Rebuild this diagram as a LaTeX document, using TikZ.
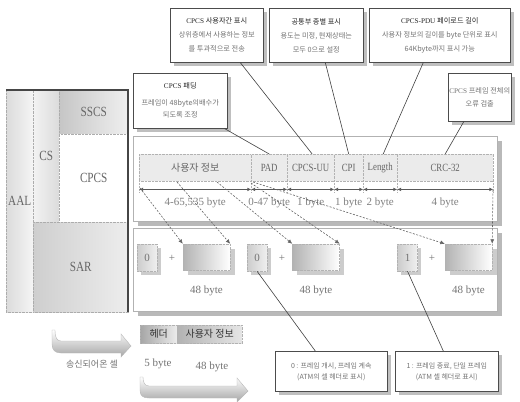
\documentclass[tikz,border=0pt]{standalone}
\usepackage{fontspec}
\usepackage{graphicx}
\setmainfont{Liberation Serif}
\newfontfamily\kr{Noto Sans CJK KR}
\usetikzlibrary{shadows,arrows.meta,calc}
\newcommand\cond[1]{\scalebox{0.8}[1]{#1}}
\newcommand\cbody{\color{black!55}}
\begin{document}
\begin{tikzpicture}[x=1pt,y=-1pt,
  col/.style={anchor=north west, draw=gray!65, densely dotted, inner sep=0pt, font=\fontsize{14}{14}\selectfont, text=black!60},
  panel/.style={anchor=north west, draw=gray!60, fill=white, line width=0.5pt, inner sep=0pt, drop shadow={shadow xshift=5pt, shadow yshift=-5pt, fill=gray!55, opacity=1}},
  callout/.style={anchor=north west, draw=black!70, fill=white, line width=0.6pt, align=center, inner sep=1pt, font=\fontsize{7.2}{14}\selectfont, text=black!85, drop shadow={shadow xshift=4pt, shadow yshift=-4pt, fill=gray!50, opacity=1}},
  field/.style={anchor=north west, draw=gray!60, densely dotted, fill=gray!16, minimum height=27pt, inner sep=0pt, font=\fontsize{11}{12}\selectfont, text=black!60},
  dimline/.style={black!65, line width=0.7pt, {Latex[length=4pt,width=3.5pt]}-{Latex[length=4pt,width=3.5pt]}},
  dimlbl/.style={font=\fontsize{11}{12}\selectfont, text=black!50, inner sep=0pt},
  divtick/.style={gray!60, densely dotted, line width=0.5pt},
  seg/.style={black!60, dash pattern=on 2pt off 1.5pt, line width=0.6pt, -{Latex[length=4.5pt,width=4pt]}},
  conn/.style={black!75, line width=0.6pt},
  scell/.style={draw=gray!60, densely dotted, left color=gray!40, right color=gray!12, minimum width=20pt, minimum height=27pt, inner sep=0pt, font=\fontsize{11}{12}\selectfont, text=black!55, drop shadow={shadow xshift=3.5pt, shadow yshift=-4pt, fill=gray!40, opacity=1}},
  bcell/.style={draw=gray!60, densely dotted, left color=gray!60, right color=white, minimum width=47pt, minimum height=26pt, inner sep=0pt, drop shadow={shadow xshift=4.5pt, shadow yshift=-5pt, fill=gray!40, opacity=1}},
  lbl/.style={font=\fontsize{11}{12}\selectfont, text=black!55, inner sep=0pt},
  atm/.style={anchor=north west, draw=gray!60, densely dotted, minimum height=18pt, inner sep=0pt, font=\fontsize{10}{12}\selectfont, text=black!80},
  ribbon/.style={draw=gray!55, line width=0.4pt, top color=white, bottom color=gray!70},
]
\useasboundingbox (0,0) rectangle (520,402);

% ---------- left AAL stack
\node[col, left color=gray!28, right color=gray!8, minimum width=27pt, minimum height=222pt] (aal) at (6,90) {\cond{AAL}};
\node[col, left color=gray!10, right color=gray!28, minimum width=26pt, minimum height=132pt] (cs) at (33,90) {\cond{CS}};
\node[col, left color=gray!45, right color=gray!12, minimum width=69pt, minimum height=44pt] (sscs) at (59,90) {\cond{SSCS}};
\node[col, fill=white, minimum width=69pt, minimum height=88pt] (cpcs) at (59,134) {\cond{CPCS}};
\node[col, left color=gray!38, right color=gray!14, minimum width=95pt, minimum height=90pt] (sar) at (33,222) {\cond{SAR}};
\draw[gray!55!black, line width=2pt] (aal.north west) -- (sscs.north east) -- (sar.south east);

% ---------- panels
\node[panel, minimum width=364pt, minimum height=85pt] (cpcsframe) at (133,136) {};
\node[panel, minimum width=364pt, minimum height=83pt] (sarframe) at (133,228) {};

% ---------- CPCS fields
\node[field, minimum width=112pt] (f1) at (139,154) {\kr\fontsize{10}{12}\selectfont 사용자 정보};
\node[field, minimum width=36pt] (f2) at (251,154) {\cond{PAD}};
\node[field, minimum width=47pt] (f3) at (287,154) {\cond{CPCS-UU}};
\node[field, minimum width=29pt] (f4) at (334,154) {\cond{CPI}};
\node[field, minimum width=34pt] (f5) at (363,154) {\cond{Length}};
\node[field, minimum width=96pt] (f6) at (397,154) {\cond{CRC-32}};
\foreach \f in {f1,f2,f3,f4,f5,f6}{
  \draw[divtick] (\f.south west) -- ([yshift=-11pt]\f.south west);
  \draw[dimline] ([yshift=-8pt]\f.south west) -- ([yshift=-8pt]\f.south east);
}
\draw[divtick] (f6.south east) -- ([yshift=-11pt]f6.south east);
\node[dimlbl] (l1) at ([yshift=-21pt]f1.south) {4-65,535 byte};
\node[dimlbl] (l2) at ([yshift=-21pt]f2.south) {0-47 byte};
\node[dimlbl] (l3) at ([yshift=-21pt]f3.south) {1 byte};
\node[dimlbl] (l4) at ([yshift=-21pt]f4.south) {1 byte};
\node[dimlbl] (l5) at ([yshift=-21pt]f5.south) {2 byte};
\node[dimlbl] (l6) at ([yshift=-21pt]f6.south) {4 byte};

% ---------- SAR cells
\node[scell] (s1) at (147,257.5) {0};
\node[lbl] (p1) at (172,258) {+};
\node[bcell] (b1) at (206.5,257) {};
\node[scell] (s2) at (257,257.5) {0};
\node[lbl] (p2) at (282,258) {+};
\node[bcell] (b2) at (316,257) {};
\node[scell] (s3) at (407.5,257.5) {1};
\node[lbl] (p3) at (432,258) {+};
\node[bcell] (b3) at (468.5,257) {};
\node[lbl] (w1) at ([yshift=-21pt]b1.south) {48 byte};
\node[lbl] (w2) at ([yshift=-21pt]b2.south) {48 byte};
\node[lbl] (w3) at ([yshift=-21pt]b3.south) {48 byte};

% ---------- segmentation arrows
\coordinate (dA) at (140,188);
\coordinate (dB) at (177,182);
\coordinate (dC) at (217,182);
\coordinate (dD) at (251,183);
\coordinate (dE) at (253,182);
\coordinate (dF) at (493,190);
\draw[seg] (dA) -- (b1.north west);
\draw[seg] (dB) -- (b1.north east);
\draw[seg] (dC) -- (b2.north west);
\draw[seg] (dD) -- (b2.north east);
\draw[seg] (dE) -- (b3.north west);
\draw[seg] (dF) -- (b3.north east);

% ---------- callouts
\node[callout, minimum width=93pt, minimum height=54pt] (cb1) at (170,8)
  {CPCS {\kr 사용자간 표시}\\{\cbody\kr 상위층에서 사용하는 정보}\\{\cbody\kr 를 투과적으로 전송}};
\node[callout, minimum width=94pt, minimum height=54pt] (cb2) at (269,8)
  {{\kr 공통부 종별 표시}\\{\cbody\kr 용도는 미정, 현재상태는}\\{\cbody\kr 모두 0으로 설정}};
\node[callout, minimum width=141pt, minimum height=54pt] (cb3) at (369,8)
  {CPCS-PDU {\kr 페이로드 길이}\\{\cbody\kr 사용자 정보의 길이를 byte 단위로 표시}\\{\cbody\kr 64Kbyte까지 표시 가능}};
\node[callout, minimum width=94pt, minimum height=55pt, font=\fontsize{7.2}{12}\selectfont] (cb4) at (133,73)
  {CPCS {\kr 패딩}\\[5pt]{\cbody\kr 프레임이 48byte의배수가}\\{\cbody\kr 되도록 조정}};
\node[callout, minimum width=63pt, minimum height=48pt, font=\fontsize{7.2}{13}\selectfont] (cb5) at (448,73)
  {{\cbody CPCS \kr 프레임 전체의}\\{\cbody\kr 오류 검출}};
\node[callout, minimum width=112pt, minimum height=40pt, font=\fontsize{7}{11}\selectfont] (c0) at (275,351)
  {{\cbody\kr 0 : 프레임 개시, 프레임 계속}\\{\cbody\kr (ATM의 셀 헤더로 표시)}};
\node[callout, minimum width=103pt, minimum height=40pt, font=\fontsize{7}{11}\selectfont] (c1) at (395,351)
  {{\cbody\kr 1 : 프레임 종료, 단일 프레임}\\{\cbody\kr (ATM 셀 헤더로 표시)}};

% ---------- callout connectors
\draw[conn] ([xshift=23.5pt]cb1.south) -- ([xshift=1.5pt]f3.north);
\draw[conn] ([xshift=9pt]cb2.south) -- (f4.north);
\draw[conn] ([xshift=-16.5pt]cb3.south) -- ([xshift=3pt]f5.north);
\draw[conn] ([xshift=-3pt]cb4.south east) -- (f2.north);
\draw[conn] ([xshift=-16pt]cb5.south) -- (f6.north);
\draw[conn] (s2.south) -- ([xshift=-16pt]c0.north);
\draw[conn] (s3.south) -- ([xshift=-3.5pt]c1.north);

% ---------- ATM cell
\node[atm, left color=gray!70, right color=gray!15, minimum width=37pt] (hdr) at (140,325) {\kr 헤더};
\node[atm, left color=gray!60, right color=gray!20, minimum width=65pt] (pay) at (177,325) {\kr 사용자 정보};
\node[lbl] (a5) at (158,364) {5 byte};
\node[lbl] (a48) at (212,367) {48 byte};

% ---------- ribbon arrows
\shadedraw[ribbon] (52,330) -- (52,344) .. controls (52,350) and (55,353) .. (61,353) -- (121,353) -- (121,357) -- (131,346) -- (121,334) -- (121,341) -- (61,341) .. controls (57,341) and (55,338) .. (55,330) -- cycle;
\shadedraw[ribbon] (140,377) -- (140,390) .. controls (140,396) and (143,398) .. (149,398) -- (237,398) -- (237,402) -- (248,391) -- (237,378) -- (237,386) -- (149,386) .. controls (145,386) and (143,383) .. (143,377) -- cycle;
\node[font=\kr\fontsize{9}{11}\selectfont, text=black!55] (rcv) at (92,364) {송신되어온 셀};
\end{tikzpicture}
\end{document}
